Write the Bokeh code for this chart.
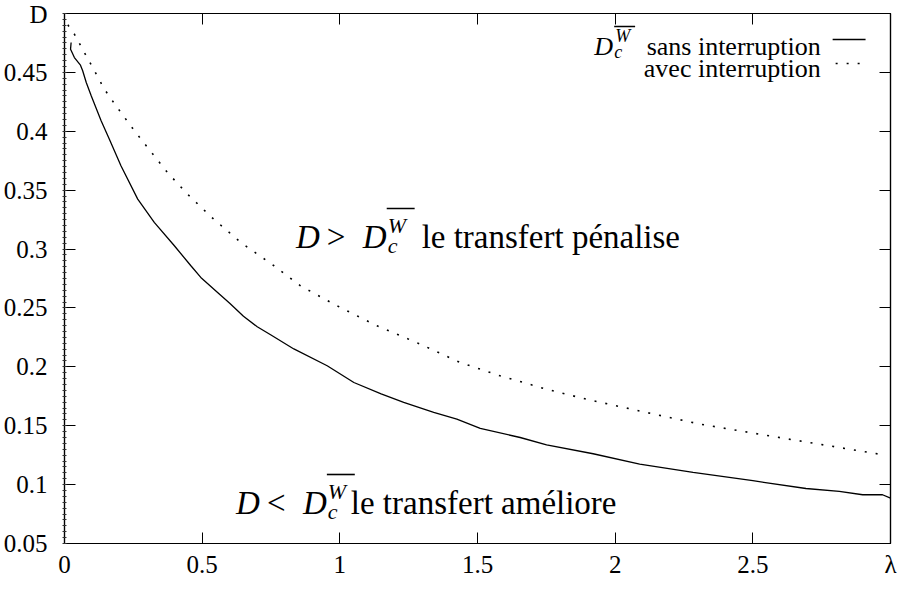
from bokeh.plotting import figure
from bokeh.models import LinearAxis, FixedTicker, Label, Range1d
from bokeh.embed import file_html
from bokeh.resources import INLINE

# ---- data ----
x_sans = [0.024, 0.022, 0.036, 0.058, 0.066, 0.079, 0.097, 0.133, 0.163, 0.205, 0.266, 0.326,
          0.399, 0.459, 0.495, 0.556, 0.60, 0.65, 0.70, 0.75, 0.833, 0.954, 1.051, 1.15, 1.232,
          1.341, 1.425, 1.51, 1.655, 1.751, 1.92, 2.089, 2.283, 2.5, 2.693, 2.814, 2.899, 2.971, 3.0]
y_sans = [0.4754, 0.4697, 0.4626, 0.4561, 0.4514, 0.4414, 0.4301, 0.4089, 0.3933, 0.3707, 0.3424,
          0.3226, 0.3028, 0.2858, 0.2759, 0.2631, 0.254, 0.243, 0.234, 0.227, 0.2152, 0.2009,
          0.1867, 0.177, 0.1698, 0.1613, 0.1556, 0.1477, 0.1400, 0.1338, 0.1262, 0.1174, 0.1103,
          0.1033, 0.0967, 0.0942, 0.0914, 0.0914, 0.0885]
x_avec = [0.012, 0.036, 0.072, 0.109, 0.145, 0.187, 0.254, 0.302, 0.374, 0.447, 0.531, 0.640,
          0.761, 0.857, 0.990, 1.135, 1.292, 1.437, 1.582, 1.751, 1.896, 2.113, 2.307, 2.524,
          2.742, 2.971]
y_avec = [0.4904, 0.4824, 0.4669, 0.4513, 0.4357, 0.4216, 0.4004, 0.3862, 0.3650, 0.3466, 0.3277,
          0.3056, 0.2858, 0.2688, 0.2518, 0.2348, 0.2193, 0.2037, 0.1924, 0.1810, 0.1725, 0.1613,
          0.1514, 0.1428, 0.1343, 0.1254]

x_ticks = [0, 0.5, 1, 1.5, 2, 2.5, 3]
x_tick_labels = ["0", "0.5", "1", "1.5", "2", "2.5", "λ"]
y_ticks = [0.05, 0.1, 0.15, 0.2, 0.25, 0.3, 0.35, 0.4, 0.45, 0.5]
y_tick_labels = ["0.05", "0.1", "0.15", "0.2", "0.25", "0.3", "0.35", "0.4", "0.45", "D"]
legend_sans = "sans interruption"
legend_avec = "avec interruption"
txt_above = "le transfert pénalise"
txt_below = "le transfert améliore"

FONT = "Liberation Serif"
X0, X1, Y0, Y1 = 0.0, 3.0, 0.05, 0.5
# frame in page pixels
FL, FR, FT, FB = 70.0, 898.0, 21.0, 551.0


def px2x(px):
    return X0 + (px - FL) / (FR - FL) * (X1 - X0)


def py2y(py):
    return Y1 - (py - FT) / (FB - FT) * (Y1 - Y0)


p = figure(width=900, height=596, x_range=Range1d(X0, X1), y_range=Range1d(Y0, Y1),
           output_backend="svg", toolbar_location=None,
           x_axis_type=None, y_axis_type=None,
           min_border_left=62, min_border_right=10, min_border_top=13, min_border_bottom=53)
p.outline_line_color = "black"
p.outline_line_width = 1.2
p.background_fill_color = "white"
p.border_fill_color = "white"

minor_y = [round(0.05 + 0.005 * i, 4) for i in range(91)]


def style(ax, labels=True):
    ax.axis_line_color = "black"
    ax.axis_line_width = 1.2
    ax.major_tick_line_color = "black"
    ax.major_tick_line_width = 1.0
    ax.major_tick_in = 11
    ax.major_tick_out = 0
    ax.major_label_text_font = FONT
    ax.major_label_text_font_size = "25px"
    ax.major_label_text_color = "black"
    if not labels:
        ax.major_label_text_font_size = "0px"
        ax.major_label_standoff = 0


left = LinearAxis(ticker=FixedTicker(ticks=y_ticks, minor_ticks=minor_y),
                  major_label_overrides={t: l for t, l in zip(y_ticks, y_tick_labels)})
style(left)
left.major_label_standoff = 15
left.minor_tick_in = 2
left.minor_tick_out = 2
left.minor_tick_line_color = "#333333"
left.minor_tick_line_width = 1.0
p.add_layout(left, "left")

bottom = LinearAxis(ticker=FixedTicker(ticks=x_ticks, minor_ticks=[]),
                    major_label_overrides={t: l for t, l in zip(x_ticks, x_tick_labels)})
style(bottom)
bottom.major_label_standoff = 7
bottom.minor_tick_line_color = None
p.add_layout(bottom, "below")

right = LinearAxis(ticker=FixedTicker(ticks=y_ticks, minor_ticks=[]),
                   major_label_overrides={t: "" for t in y_ticks})
style(right, labels=False)
right.minor_tick_line_color = None
p.add_layout(right, "right")

top = LinearAxis(ticker=FixedTicker(ticks=x_ticks, minor_ticks=[]),
                 major_label_overrides={t: "" for t in x_ticks})
style(top, labels=False)
top.minor_tick_line_color = None
p.add_layout(top, "above")

# ---- curves ----
p.line(x_sans, y_sans, line_color="black", line_width=1.3)
p.line(x_avec, y_avec, line_color="black", line_width=1.6, line_dash="2 9")


def add_text(px, py, text, size, italic=False, align="left", baseline="alphabetic"):
    p.add_layout(Label(x=px2x(px), y=py2y(py), text=text, text_font=FONT,
                       text_font_size=f"{size}px",
                       text_font_style="italic" if italic else "normal",
                       text_align=align, text_baseline=baseline, text_color="black"))


def overline(px0, px1, py):
    p.segment(x0=[px2x(px0)], y0=[py2y(py)], x1=[px2x(px1)], y1=[py2y(py)],
              line_color="black", line_width=1.6)


# ---- legend (text left of sample) ----
add_text(828, 54, legend_sans, 26, align="right")
add_text(601, 54, "D", 26, italic=True)
add_text(622, 43, "W", 18, italic=True)
add_text(621, 59, "c", 18, italic=True)
overline(621, 642, 34)
p.segment(x0=[px2x(840)], y0=[py2y(47)], x1=[px2x(873)], y1=[py2y(47)],
          line_color="black", line_width=1.3)
add_text(828, 76, legend_avec, 26, align="right")
p.segment(x0=[px2x(843)], y0=[py2y(71)], x1=[px2x(876)], y1=[py2y(71)],
          line_color="black", line_width=1.6, line_dash="2 9")


# ---- region annotations ----
def region_text(x0, base, op, words, le_px):
    add_text(x0, base, "D", 33, italic=True)
    add_text(x0 + 31, base, op, 33)
    add_text(x0 + 67, base, "D", 33, italic=True)
    add_text(x0 + 92, base - 11, "W", 22, italic=True)
    add_text(x0 + 92, base + 9, "c", 22, italic=True)
    overline(x0 + 91, x0 + 119, base - 28)
    add_text(le_px, base, words, 33)


region_text(302, 244, ">", txt_above, 428)
region_text(242, 510, "<", txt_below, 357)

open("out.html", "w").write(file_html(p, INLINE))
